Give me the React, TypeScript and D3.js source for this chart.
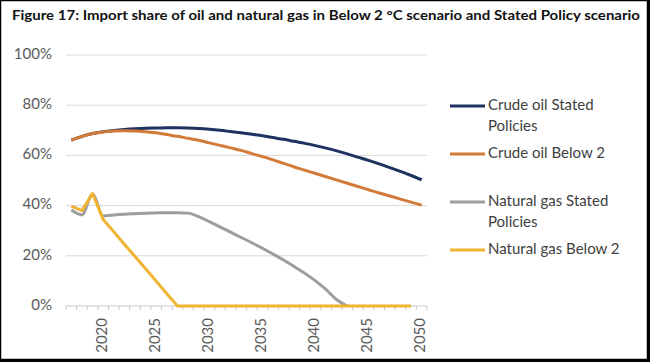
import React from 'react';
import * as d3 from 'd3';

// Categories (years) and series values, in percent
const years = [
  2017, 2018, 2019, 2020, 2021, 2022, 2023, 2024, 2025, 2026, 2027, 2028,
  2029, 2030, 2031, 2032, 2033, 2034, 2035, 2036, 2037, 2038, 2039, 2040,
  2041, 2042, 2043, 2044, 2045, 2046, 2047, 2048, 2049, 2050,
];
const crudeOilStated = [
  66.1, 67.6, 68.7, 69.4, 69.9, 70.3, 70.6, 70.8, 70.9, 71.0, 71.0, 70.9,
  70.7, 70.4, 70.0, 69.5, 69.0, 68.4, 67.8, 67.1, 66.4, 65.6, 64.8, 63.9,
  62.9, 61.8, 60.6, 59.3, 58.0, 56.6, 55.1, 53.6, 52.0, 50.3,
];
const crudeOilBelow2 = [
  66.1, 67.6, 68.7, 69.3, 69.7, 69.8, 69.7, 69.4, 69.0, 68.3, 67.6, 66.8,
  66.0, 65.0, 64.0, 63.0, 62.0, 60.7, 59.5, 58.2, 56.8, 55.4, 54.1, 52.8,
  51.5, 50.2, 48.9, 47.6, 46.3, 45.0, 43.8, 42.6, 41.4, 40.2,
];
const naturalGasStated = [
  38.2, 36.3, 44.5, 35.9, 36.3, 36.6, 36.8, 37.0, 37.1, 37.2, 37.2, 37.0,
  35.6, 33.6, 31.5, 29.4, 27.3, 25.2, 23.0, 20.7, 18.3, 15.7, 13.0, 10.0,
  6.5, 2.5, 0,
];
const naturalGasBelow2 = [
  39.8, 38.0, 44.8, 34.5, 29.6, 24.6, 19.7, 14.8, 9.9, 4.9, 0, 0,
  0, 0, 0, 0, 0, 0, 0, 0, 0, 0, 0, 0,
  0, 0, 0, 0, 0, 0, 0, 0, 0,
];
const yTicks = [0, 20, 40, 60, 80, 100];
const xLabelYears = [2020, 2025, 2030, 2035, 2040, 2045, 2050];

const series = [
  { name: ['Crude oil Stated', 'Policies'], values: crudeOilStated, color: '#1f3160', smooth: true },
  { name: ['Crude oil Below 2'], values: crudeOilBelow2, color: '#d27a38', smooth: true },
  { name: ['Natural gas Stated', 'Policies'], values: naturalGasStated, color: '#9d9d9d', smooth: true },
  { name: ['Natural gas Below 2'], values: naturalGasBelow2, color: '#f0b430', smooth: false },
];

const W = 650;
const H = 362;
const FONT = 'Lato, "Open Sans", sans-serif';

export default function App() {
  // category axis: ticks fall between years
  const x = d3.scaleLinear()
    .domain([years[0] - 0.5, years[years.length - 1] + 0.5])
    .range([66, 427]);
  const y = d3.scaleLinear().domain([0, 100]).range([306, 55]);

  const lineFor = (smooth: boolean) =>
    d3.line<number>()
      .x((_, i) => x(years[i]))
      .y(d => y(d))
      .curve(smooth ? d3.curveMonotoneX : d3.curveLinear);

  const boundaries = d3.range(years.length + 1).map(i => years[0] - 0.5 + i);

  const legendY = [106, 154, 202, 250];

  return (
    <svg
      width={W}
      height={H}
      style={{ position: 'absolute', left: 0, top: 0, background: '#fff' }}
      fontFamily={FONT}
    >
      <rect x={0} y={0} width={W} height={H} fill="#fff" />

      <text x={12} y={20} fontSize={14} fontWeight="bold" fill="#111"
        textLength={628} lengthAdjust="spacingAndGlyphs">
        Figure 17: Import share of oil and natural gas in Below 2 °C scenario and Stated Policy scenario
      </text>

      {/* gridlines + y labels */}
      {yTicks.map(t => (
        <g key={t}>
          {t > 0 && (
            <line x1={66} x2={427} y1={y(t)} y2={y(t)} stroke="#d9d9d9" strokeWidth={1} />
          )}
          <text x={52} y={y(t)} textAnchor="end" dominantBaseline="middle"
            fontSize={15} fill="#595959">
            {t}%
          </text>
        </g>
      ))}

      {/* x axis */}
      <line x1={66} x2={427} y1={y(0)} y2={y(0)} stroke="#c8c8c8" strokeWidth={1} />
      {boundaries.map(b => (
        <line key={b} x1={x(b)} x2={x(b)} y1={y(0)} y2={y(0) + 4} stroke="#c8c8c8" strokeWidth={1} />
      ))}
      {xLabelYears.map(yr => (
        <text key={yr} transform={`translate(${x(yr)},318) rotate(-90)`}
          textAnchor="end" dominantBaseline="middle" fontSize={15} fill="#595959">
          {yr}
        </text>
      ))}

      {/* series, drawn in legend order so later ones sit on top */}
      {series.map((s, i) => (
        <path key={i} d={lineFor(s.smooth)(s.values) || ''} fill="none"
          stroke={s.color} strokeWidth={3} strokeLinejoin="round" />
      ))}

      {/* legend */}
      {series.map((s, i) => (
        <g key={i}>
          <line x1={450} x2={485} y1={legendY[i]} y2={legendY[i]} stroke={s.color} strokeWidth={3} />
          {s.name.map((n, j) => (
            <text key={j} x={488} y={legendY[i] + j * 21} dominantBaseline="middle"
              fontSize={15} fill="#404040">
              {n}
            </text>
          ))}
        </g>
      ))}

      {/* frame */}
      <rect x={0.5} y={0.5} width={W - 3} height={H - 3} fill="none" stroke="#000" strokeWidth={1.5} />
      <line x1={W - 1.5} x2={W - 1.5} y1={0} y2={H} stroke="#000" strokeWidth={3} />
      <line x1={0} x2={W} y1={H - 1.5} y2={H - 1.5} stroke="#000" strokeWidth={3} />
    </svg>
  );
}
